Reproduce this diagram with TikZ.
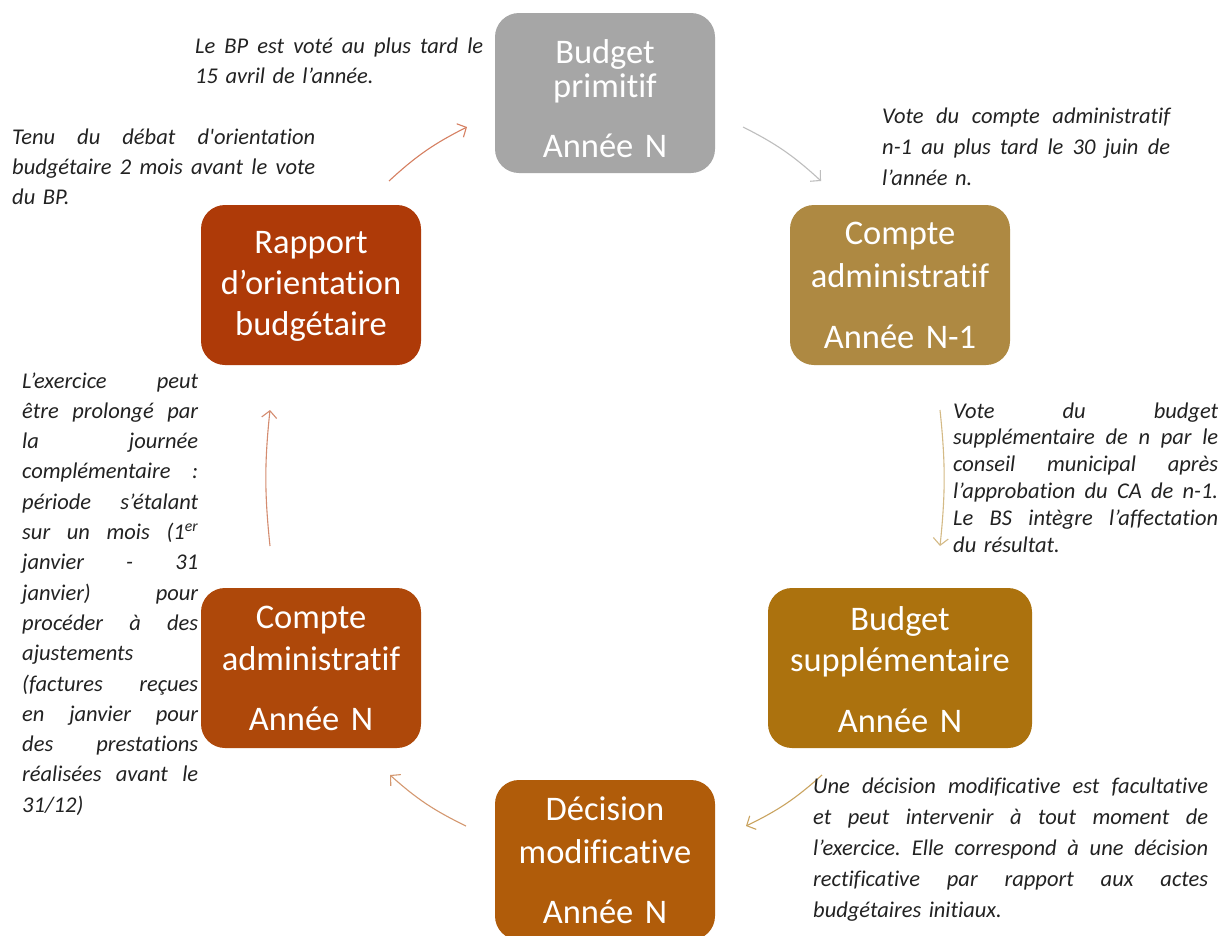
\documentclass[tikz,border=0pt]{standalone}
\usepackage{fontspec}
\setmainfont{Carlito}[Ligatures={NoCommon}]
\newfontfamily\notefont{Carlito}[Ligatures={NoCommon}]
\usetikzlibrary{arrows.meta}

% stage fills
\definecolor{cBP}{RGB}{166,166,166}
\definecolor{cCAone}{RGB}{174,137,66}
\definecolor{cBS}{RGB}{172,114,14}
\definecolor{cDM}{RGB}{176,92,10}
\definecolor{cCAN}{RGB}{174,72,10}
\definecolor{cROB}{RGB}{174,58,8}
% connector tints
\definecolor{aBP}{RGB}{190,190,190}
\definecolor{aCAone}{RGB}{212,186,134}
\definecolor{aBS}{RGB}{202,164,96}
\definecolor{aDM}{RGB}{212,152,112}
\definecolor{aCAN}{RGB}{212,140,112}
\definecolor{aROB}{RGB}{214,128,98}
\definecolor{notegray}{RGB}{34,34,34}

% a justified line spread to the column width, and a flush-left closing line
\newcommand\jl[1]{\hbox to \hsize{\spaceskip=0.25em plus 1fil\relax #1}}
\newcommand\fl[1]{\hbox{#1}}

\begin{document}
\begin{tikzpicture}[x=1pt,y=-1pt,
  stage/.style={rectangle, rounded corners=24pt, minimum height=160pt,
    inner sep=0pt, draw=none},
  stagetext/.style={anchor=base, inner sep=0pt, align=center, text=white,
    text width=270pt, font=\fontsize{34.5}{#1}\selectfont},
  note/.style={anchor=base west, inner sep=0pt, align=left, text=notegray,
    font=\notefont\itshape\fontsize{22.5}{#1}\selectfont},
  flow/.style={line width=1.1pt, -{Straight Barb[length=7pt,width=15pt]}},
]
\fill[white] (0,0) rectangle (1220,935);
\path[use as bounding box] (0,0) rectangle (1220,935);

% stages of the budget cycle
\node[stage, fill=cBP,    minimum width=220pt] (bp)  at (605,93)  {};
\node[stage, fill=cCAone, minimum width=220pt] (ca1) at (900,285) {};
\node[stage, fill=cBS,    minimum width=264pt] (bs)  at (900,668) {};
\node[stage, fill=cDM,    minimum width=220pt] (dm)  at (605,860) {};
\node[stage, fill=cCAN,   minimum width=220pt] (can) at (311,668) {};
\node[stage, fill=cROB,   minimum width=220pt] (rob) at (311,285) {};

\node[stagetext=34] (bp-t)  at (605,63)  {Budget\\primitif\\[26pt]Année N};
\node[stagetext=43] (ca1-t) at (900,244) {Compte\\administratif\\[18pt]Année N-1};
\node[stagetext=41] (bs-t)  at (900,630) {Budget\\supplémentaire\\[20pt]Année N};
\node[stagetext=43] (dm-t)  at (605,820) {Décision\\modificative\\[17pt]Année N};
\node[stagetext=42] (can-t) at (311,628) {Compte\\administratif\\[18pt]Année N};
\node[stagetext=41] (rob-t) at (311,253) {Rapport\\d’orientation\\budgétaire};

% connector end points
\coordinate (a1s) at (389,181); \coordinate (a1e) at (467,127);
\coordinate (a2s) at (743,127); \coordinate (a2e) at (821,181);
\coordinate (a3s) at (940,410); \coordinate (a3e) at (940,546);
\coordinate (a4s) at (822,775); \coordinate (a4e) at (746,826);
\coordinate (a5s) at (466,826); \coordinate (a5e) at (390,775);
\coordinate (a6s) at (270,546); \coordinate (a6e) at (270,410);

\draw[flow, draw=aROB]   (a1s) to[bend left=8]  (a1e);
\draw[flow, draw=aBP]    (a2s) to[bend left=8]  (a2e);
\draw[flow, draw=aCAone] (a3s) to[bend left=6]  (a3e);
\draw[flow, draw=aBS]    (a4s) to[bend left=8]  (a4e);
\draw[flow, draw=aDM]    (a5s) to[bend left=8]  (a5e);
\draw[flow, draw=aCAN]   (a6s) to[bend left=6]  (a6e);

% notes
\node[note=30, text width=288pt] (n-bp) at (195,53)
  {\jl{Le BP est voté au plus tard le}
   \fl{15 avril de l’année.}};

\node[note=30, text width=303pt] (n-rob) at (12,144)
  {\jl{Tenu du débat d'orientation}
   \jl{budgétaire 2 mois avant le vote}
   \fl{du BP.}};

\node[note=31, text width=288pt] (n-ca1) at (882,123)
  {\jl{Vote du compte administratif}
   \jl{n-1 au plus tard le 30 juin de}
   \fl{l’année n.}};

\node[note=26.8, text width=265pt] (n-bs) at (953,418)
  {\jl{Vote du budget}
   \jl{supplémentaire de n par le}
   \jl{conseil municipal après}
   \jl{l’approbation du CA de n-1.}
   \jl{Le BS intègre l’affectation}
   \fl{du résultat.}};

\node[note=31, text width=395pt] (n-dm) at (813,793)
  {\jl{Une décision modificative est facultative}
   \jl{et peut intervenir à tout moment de}
   \jl{l’exercice. Elle correspond à une décision}
   \jl{rectificative par rapport aux actes}
   \fl{budgétaires initiaux.}};

\node[note=30.3, text width=176pt] (n-can) at (22,388)
  {\jl{L’exercice peut}
   \jl{être prolongé par}
   \jl{la journée}
   \jl{complémentaire :}
   \jl{période s’étalant}
   \jl{sur un mois (1\textsuperscript{er}}
   \jl{janvier - 31}
   \jl{janvier) pour}
   \jl{procéder à des}
   \fl{ajustements}
   \jl{(factures reçues}
   \jl{en janvier pour}
   \jl{des prestations}
   \jl{réalisées avant le}
   \fl{31/12)}};
\end{tikzpicture}
\end{document}
